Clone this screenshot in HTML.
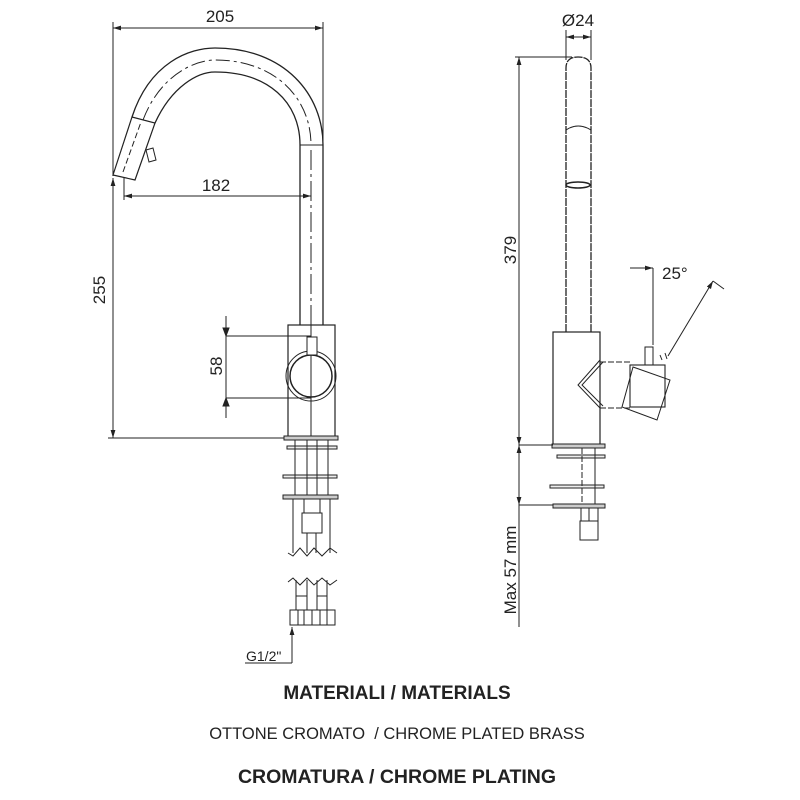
<!DOCTYPE html>
<html><head><meta charset="utf-8"><style>
html,body{margin:0;padding:0;background:#fff;}
svg{display:block;}
text{font-family:"Liberation Sans",sans-serif;fill:#222;}
</style></head><body>
<svg width="800" height="800" viewBox="0 0 800 800" xmlns="http://www.w3.org/2000/svg">
<defs>
<marker id="a" viewBox="0 0 10 10" refX="10" refY="5" markerWidth="8" markerHeight="8" orient="auto-start-reverse"><path d="M0,2 L10,5 L0,8 z" fill="#222"/></marker>
</defs>
<g stroke="#222" stroke-width="1" fill="none">
<line x1="113" y1="22" x2="113" y2="176"/>
<line x1="323" y1="22" x2="323" y2="145"/>
<line x1="113" y1="28" x2="323" y2="28" marker-start="url(#a)" marker-end="url(#a)"/>
<path d="M132,117 C150,62 190,48 215,48 C285,48 323,95 323,145" stroke-width="1.3"/>
<path d="M155,123 C172,86 198,72 215,72 C268,72 300,102 300,145" stroke-width="1.3"/>
<path d="M143,120 C160,75 195,60 215,60 C275,60 311,98 311,145" stroke-dasharray="14,4,3,4"/>
<line x1="300" y1="145" x2="323" y2="145"/>
<line x1="300" y1="145" x2="300" y2="325" stroke-width="1.3"/>
<line x1="323" y1="145" x2="323" y2="325" stroke-width="1.3"/>
<line x1="311" y1="150" x2="311" y2="325" stroke-dasharray="20,4,3,4"/>
<polygon points="113,175 135,180 155,123 132,117" stroke-width="1.2"/>
<line x1="123" y1="172" x2="141" y2="122" stroke-dasharray="6,3"/>
<polygon points="146,150 153,148 156,160 149,162"/>
<line x1="124" y1="178" x2="124" y2="200"/>
<line x1="124" y1="196" x2="311" y2="196" marker-start="url(#a)" marker-end="url(#a)"/>
<line x1="113" y1="178" x2="113" y2="438" marker-start="url(#a)" marker-end="url(#a)"/>
<line x1="108" y1="438" x2="285" y2="438"/>
<rect x="288" y="325" width="47" height="112" stroke-width="1.2"/>
<line x1="311" y1="325" x2="311" y2="437"/>
<circle cx="311" cy="376" r="25"/>
<circle cx="311" cy="376" r="21" stroke-width="1.5"/>
<rect x="307" y="337" width="10" height="18" fill="#fff"/>
<line x1="226" y1="316" x2="226" y2="418"/>
<path d="M223,328 L226,336 L229,328 z M223,406 L226,398 L229,406 z" fill="#222"/>
<line x1="226" y1="336" x2="311" y2="336"/>
<line x1="226" y1="398" x2="311" y2="398"/>
<rect x="284" y="436" width="54" height="4" fill="#ccc"/>
<rect x="287" y="446" width="50" height="3" fill="#eee"/>
<rect x="283" y="475" width="54" height="3" fill="#eee"/>
<rect x="283" y="495" width="55" height="4" fill="#ccc"/>
<line x1="295" y1="440" x2="295" y2="495"/>
<line x1="307" y1="440" x2="307" y2="495"/>
<line x1="317" y1="440" x2="317" y2="495"/>
<line x1="328" y1="440" x2="328" y2="495"/>
<rect x="304" y="499" width="16" height="14"/>
<rect x="302" y="513" width="20" height="20"/>
<line x1="293" y1="499" x2="293" y2="553"/>
<line x1="307" y1="533" x2="307" y2="553"/>
<line x1="316" y1="533" x2="316" y2="553"/>
<line x1="330" y1="499" x2="330" y2="553"/>
<path d="M288,553 L293,556 L300,548 L307,556 L314,548 L322,556 L330,548 L337,553"/>
<path d="M288,582 L293,578 L300,585 L307,578 L314,585 L322,578 L330,585 L337,580"/>
<line x1="296" y1="580" x2="296" y2="610"/>
<line x1="307" y1="580" x2="307" y2="610"/>
<line x1="317" y1="580" x2="317" y2="610"/>
<line x1="327" y1="580" x2="327" y2="610"/>
<rect x="296" y="596" width="11" height="14"/>
<rect x="317" y="596" width="10" height="14"/>
<rect x="290" y="610" width="45" height="15"/>
<line x1="312" y1="610" x2="312" y2="625"/>
<line x1="298" y1="610" x2="298" y2="625"/><line x1="304" y1="610" x2="304" y2="625"/>
<line x1="320" y1="610" x2="320" y2="625"/><line x1="327" y1="610" x2="327" y2="625"/>
<line x1="292" y1="663" x2="292" y2="627" marker-end="url(#a)"/>
<line x1="245" y1="663" x2="292" y2="663"/>
<line x1="566" y1="30" x2="566" y2="60"/>
<line x1="591" y1="30" x2="591" y2="60"/>
<line x1="566" y1="37" x2="591" y2="37" marker-start="url(#a)" marker-end="url(#a)"/>
<path d="M566,332 L566,68 Q566,57 578,57 Q591,57 591,68 L591,332" stroke-width="1.3" stroke-dasharray="8,1"/>
<path d="M566,130 Q578,122 591,130"/>
<ellipse cx="578" cy="185" rx="12" ry="3" stroke-width="1.5"/>
<line x1="515" y1="57" x2="572" y2="57"/>
<line x1="519" y1="57" x2="519" y2="445" marker-start="url(#a)" marker-end="url(#a)"/>
<rect x="553" y="332" width="47" height="113" stroke-width="1.2"/>
<path d="M600,360 L578,385 L600,408"/>
<path d="M603,362 L582,385 L603,406"/>
<line x1="600" y1="362" x2="630" y2="362" stroke-dasharray="6,2"/>
<line x1="600" y1="408" x2="630" y2="408" stroke-dasharray="6,2"/>
<rect x="630" y="365" width="35" height="42" stroke-width="1.1"/>
<polygon points="633,367 670,380 657,420 622,407"/>
<rect x="645" y="347" width="8" height="18"/>
<line x1="653" y1="268" x2="653" y2="345"/>
<line x1="630" y1="268" x2="653" y2="268" marker-end="url(#a)"/>
<line x1="668" y1="356" x2="713" y2="281" marker-end="url(#a)"/>
<line x1="713" y1="281" x2="724" y2="289"/>
<line x1="660" y1="355" x2="662" y2="360"/><line x1="665" y1="353" x2="667" y2="359"/>
<rect x="552" y="444" width="53" height="4" fill="#ccc"/>
<rect x="557" y="455" width="48" height="3" fill="#eee"/>
<rect x="550" y="485" width="54" height="3" fill="#eee"/>
<rect x="553" y="504" width="52" height="4" fill="#ccc"/>
<line x1="582" y1="448" x2="582" y2="504" stroke-dasharray="6,2"/>
<line x1="595" y1="448" x2="595" y2="504"/>
<rect x="581" y="508" width="17" height="13"/>
<rect x="580" y="521" width="18" height="19"/>
<line x1="589" y1="508" x2="589" y2="521"/>
<line x1="519" y1="445" x2="519" y2="505" marker-start="url(#a)" marker-end="url(#a)"/>
<line x1="519" y1="505" x2="519" y2="627"/>
<line x1="519" y1="445" x2="553" y2="445"/>
<line x1="519" y1="505" x2="553" y2="505"/>
</g>
<text x="220" y="22" font-size="17" text-anchor="middle">205</text>
<text x="216" y="191" font-size="17" text-anchor="middle">182</text>
<text transform="translate(105,290) rotate(-90)" font-size="17" text-anchor="middle">255</text>
<text transform="translate(222,366) rotate(-90)" font-size="17" text-anchor="middle">58</text>
<text x="246" y="661" font-size="14">G1/2"</text>
<text x="578" y="26" font-size="17" text-anchor="middle">Ø24</text>
<text transform="translate(516,250) rotate(-90)" font-size="17" text-anchor="middle">379</text>
<text x="662" y="279" font-size="17">25°</text>
<text transform="translate(516,570) rotate(-90)" font-size="17" text-anchor="middle">Max 57 mm</text>
<text x="397" y="699" font-size="19" font-weight="bold" text-anchor="middle">MATERIALI / MATERIALS</text>
<text x="397" y="739" font-size="16.5" text-anchor="middle" xml:space="preserve">OTTONE CROMATO  / CHROME PLATED BRASS</text>
<text x="397" y="783" font-size="19.5" font-weight="bold" text-anchor="middle">CROMATURA / CHROME PLATING</text>
</svg>
</body></html>
